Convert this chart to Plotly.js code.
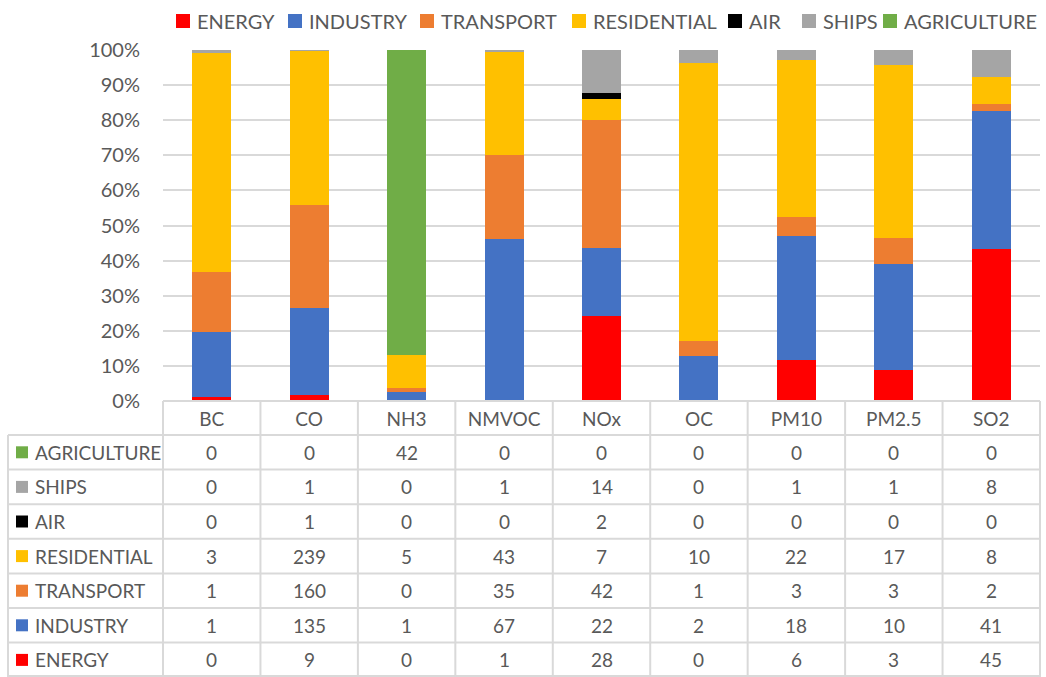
<!DOCTYPE html>
<html>
<head>
<meta charset="utf-8">
<script src="https://cdn.plot.ly/plotly-3.0.1.min.js"></script>
<style>html,body{margin:0;padding:0;background:#fff;}#chart{width:1046px;height:677px;}</style>
</head>
<body>
<div id="chart"></div>
<script>
// ---- data (emissions by sector, per pollutant) ----
const categories = ['BC','CO','NH3','NMVOC','NOx','OC','PM10','PM2.5','SO2'];
const energy      = [0.065, 9,   0,    0.6,  28, 0.01, 5.9,  3.0,  45];
const industry    = [0.98, 135,  1.3,  67.4, 22, 1.62, 17.6, 10.4, 41];
const transport   = [0.9,  160,  0.48, 35,   42, 0.52, 2.6,  2.6,  2];
const residential = [3.3,  239,  4.6,  43,   7,  10.0, 22.4, 17.0, 8];
const air         = [0.01, 1,    0,    0,    2,  0,    0,    0,    0.15];
const ships       = [0.04, 1,    0,    1.0,  14, 0.46, 1.4,  1.45, 8];
const agriculture = [0,    0,    42,   0,    0,  0,    0,    0,    0];

const seriesNames = ['ENERGY','INDUSTRY','TRANSPORT','RESIDENTIAL','AIR','SHIPS','AGRICULTURE'];
const seriesData  = [energy, industry, transport, residential, air, ships, agriculture];
const seriesColors = ['#FF0000','#4472C4','#ED7D31','#FFC000','#000000','#A5A5A5','#70AD47'];

const FONT = 'Lato, "Open Sans", sans-serif';
const TXT = '#595959';
const GRID = '#D9D9D9';
const FS = 19;

const traces = seriesNames.map((n, s) => ({
  type: 'bar', name: n, x: categories, y: seriesData[s],
  marker: {color: seriesColors[s], line: {width: 0}}
}));

// ---- geometry (pixels -> paper) ----
const L = 163, R = 6, T = 50, B = 276, W = 1046, Hh = 677;
const plotW = W - L - R, plotH = Hh - T - B;
const axisY = T + plotH;
const py = Y => -(Y - axisY) / plotH;
const pxX = X => (X - L) / plotW;
const headerBottom = 435, rowH = 34.6;
const n = categories.length;

const shapes = [];
const annotations = [];
const lineStyle = {color: GRID, width: 2};

// legend (drawn in the top margin)
const legendX = [176, 288, 420, 572, 728, 802, 883];
seriesNames.forEach((name, s) => {
  const x0 = legendX[s];
  shapes.push({type:'rect', xref:'paper', yref:'paper', x0:pxX(x0), x1:pxX(x0+14), y0:py(28), y1:py(14),
               fillcolor: seriesColors[s], line:{width:0}});
  annotations.push({xref:'paper', yref:'paper', x:pxX(x0+19), y:py(21), xanchor:'left', yanchor:'middle',
                    text: name, showarrow:false, font:{family:FONT, size:20, color:TXT}});
});

// table grid
shapes.push({type:'line', xref:'paper', yref:'paper', x0:0, x1:1, y0:0, y1:0, line: lineStyle, layer:'above'});
for (let k = 0; k <= 7; k++) {
  const Y = Math.min(headerBottom + k * rowH, 676);
  shapes.push({type:'line', xref:'paper', yref:'paper', x0:pxX(8), x1:1, y0:py(Y), y1:py(Y), line: lineStyle});
}
for (let i = 0; i <= n; i++) {
  shapes.push({type:'line', xref:'paper', yref:'paper', x0:i/n, x1:i/n, y0:0, y1:py(677), line: lineStyle});
}
shapes.push({type:'line', xref:'paper', yref:'paper', x0:pxX(8), x1:pxX(8), y0:py(headerBottom), y1:py(677), line: lineStyle});

// table rows: top to bottom is the reverse of the stacking order
const rowOrder = [6,5,4,3,2,1,0];
rowOrder.forEach((s, k) => {
  const cy = headerBottom + k * rowH + rowH / 2;
  shapes.push({type:'rect', xref:'paper', yref:'paper', x0:pxX(16), x1:pxX(28), y0:py(cy+6), y1:py(cy-6),
               fillcolor: seriesColors[s], line:{width:0}});
  annotations.push({xref:'paper', yref:'paper', x:pxX(33), y:py(cy), xanchor:'left', yanchor:'middle',
                    text: seriesNames[s], showarrow:false, font:{family:FONT, size:FS, color:TXT}});
  seriesData[s].forEach((v, i) => {
    annotations.push({xref:'paper', yref:'paper', x:(i+0.5)/n, y:py(cy), xanchor:'center', yanchor:'middle',
                      text: String(Math.round(v)), showarrow:false, font:{family:FONT, size:FS, color:TXT}});
  });
});

const layout = {
  width: W, height: Hh,
  margin: {l: L, r: R, t: T, b: B, pad: 0},
  paper_bgcolor: '#fff', plot_bgcolor: '#fff',
  barmode: 'stack', barnorm: 'percent', bargap: 0.6,
  font: {family: FONT, size: FS, color: TXT},
  showlegend: false,
  xaxis: {type: 'category', range: [-0.5, n - 0.5], showgrid: false, zeroline: false, showline: false,
          ticks: '', ticklabelstandoff: 5, tickfont: {family: FONT, size: FS, color: TXT}},
  yaxis: {range: [0, 100], dtick: 10, ticksuffix: '%', showgrid: true, gridcolor: GRID, gridwidth: 2,
          zeroline: false, showline: false, ticks: '', ticklabelstandoff: 22,
          tickfont: {family: FONT, size: 20, color: TXT}},
  shapes: shapes,
  annotations: annotations
};

Plotly.newPlot('chart', traces, layout, {displayModeBar: false, staticPlot: true});
</script>
</body>
</html>
